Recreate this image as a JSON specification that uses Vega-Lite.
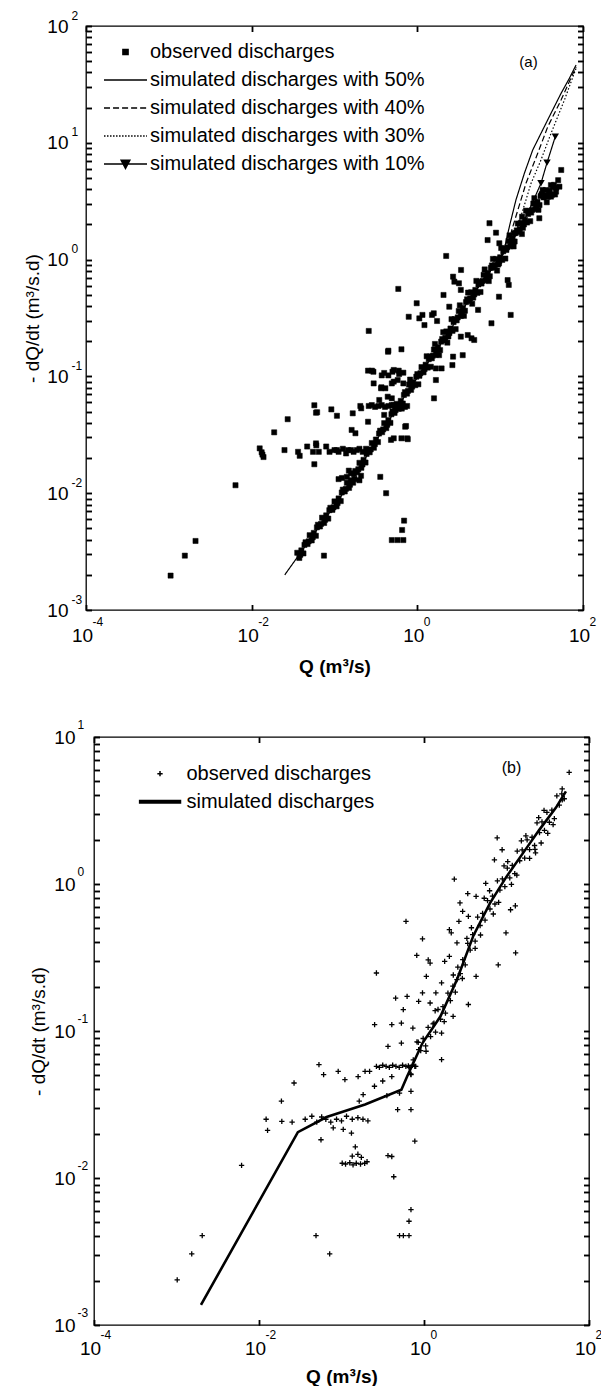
{
"$schema": "https://vega.github.io/schema/vega-lite/v6.json",
"background": "white",
"padding": {"left": 22, "top": 8, "right": 5, "bottom": 5},
"config": {
  "view": {"stroke": "black", "strokeWidth": 1.3},
  "font": "Liberation Sans",
  "axis": {"grid": false, "ticks": true, "zindex": 1, "labelColor": "black", "titleColor": "black", "tickColor": "black", "tickOpacity": 1, "domainColor": "black", "tickWidth": 1.5, "labelFont": "Liberation Sans", "titleFont": "Liberation Sans"}
},
"resolve": {"scale": {"shape": "independent"}, "legend": {"shape": "independent"}},
"datasets": {
"obsA": [
{"Q":0.0355,"dQdt":0.00309},{"Q":0.0376,"dQdt":0.00279},{"Q":0.0398,"dQdt":0.00324},{"Q":0.0422,"dQdt":0.00305},{"Q":0.0447,"dQdt":0.0038},{"Q":0.0473,"dQdt":0.00367},{"Q":0.0501,"dQdt":0.00437},{"Q":0.0531,"dQdt":0.00394},{"Q":0.0562,"dQdt":0.00457},{"Q":0.0596,"dQdt":0.00432},{"Q":0.0631,"dQdt":0.00537},{"Q":0.0668,"dQdt":0.00519},{"Q":0.0708,"dQdt":0.00617},{"Q":0.075,"dQdt":0.00556},{"Q":0.0794,"dQdt":0.00646},{"Q":0.0841,"dQdt":0.00606},{"Q":0.0891,"dQdt":0.0075},{"Q":0.0944,"dQdt":0.0072},{"Q":0.1,"dQdt":0.00851},{"Q":0.106,"dQdt":0.00772},{"Q":0.112,"dQdt":0.00902},{"Q":0.119,"dQdt":0.00856},{"Q":0.126,"dQdt":0.01072},{"Q":0.133,"dQdt":0.01035},{"Q":0.141,"dQdt":0.0123},{"Q":0.15,"dQdt":0.0111},{"Q":0.158,"dQdt":0.0129},{"Q":0.168,"dQdt":0.0123},{"Q":0.178,"dQdt":0.0155},{"Q":0.188,"dQdt":0.0151},{"Q":0.2,"dQdt":0.0182},{"Q":0.211,"dQdt":0.0165},{"Q":0.224,"dQdt":0.0193},{"Q":0.237,"dQdt":0.0183},{"Q":0.251,"dQdt":0.0229},{"Q":0.266,"dQdt":0.0224},{"Q":0.282,"dQdt":0.0269},{"Q":0.299,"dQdt":0.0245},{"Q":0.316,"dQdt":0.0288},{"Q":0.335,"dQdt":0.0274},{"Q":0.355,"dQdt":0.0343},{"Q":0.376,"dQdt":0.0333},{"Q":0.398,"dQdt":0.0398},{"Q":0.422,"dQdt":0.0361},{"Q":0.447,"dQdt":0.0422},{"Q":0.473,"dQdt":0.04},{"Q":0.501,"dQdt":0.0501},{"Q":0.531,"dQdt":0.0487},{"Q":0.562,"dQdt":0.0582},{"Q":0.596,"dQdt":0.0528},{"Q":0.631,"dQdt":0.0617},{"Q":0.668,"dQdt":0.0586},{"Q":0.708,"dQdt":0.0733},{"Q":0.75,"dQdt":0.0712},{"Q":0.794,"dQdt":0.0851},{"Q":0.841,"dQdt":0.0767},{"Q":0.891,"dQdt":0.0891},{"Q":0.944,"dQdt":0.0841},{"Q":1.0,"dQdt":0.1047},{"Q":1.059,"dQdt":0.1012},{"Q":1.122,"dQdt":0.1202},{"Q":1.189,"dQdt":0.1084},{"Q":1.259,"dQdt":0.1259},{"Q":1.334,"dQdt":0.1189},{"Q":1.413,"dQdt":0.1479},{"Q":1.496,"dQdt":0.1429},{"Q":1.585,"dQdt":0.1698},{"Q":1.679,"dQdt":0.1531},{"Q":1.778,"dQdt":0.1778},{"Q":1.884,"dQdt":0.1679},{"Q":1.995,"dQdt":0.2089},{"Q":2.113,"dQdt":0.203},{"Q":2.239,"dQdt":0.2427},{"Q":2.371,"dQdt":0.22},{"Q":2.512,"dQdt":0.257},{"Q":2.661,"dQdt":0.2455},{"Q":2.818,"dQdt":0.309},{"Q":2.985,"dQdt":0.302},{"Q":3.162,"dQdt":0.363},{"Q":3.35,"dQdt":0.329},{"Q":3.548,"dQdt":0.385},{"Q":3.758,"dQdt":0.365},{"Q":3.981,"dQdt":0.457},{"Q":4.217,"dQdt":0.442},{"Q":4.467,"dQdt":0.525},{"Q":4.732,"dQdt":0.473},{"Q":5.012,"dQdt":0.55},{"Q":5.309,"dQdt":0.519},{"Q":5.623,"dQdt":0.646},{"Q":5.957,"dQdt":0.624},{"Q":6.31,"dQdt":0.741},{"Q":6.683,"dQdt":0.665},{"Q":7.079,"dQdt":0.767},{"Q":7.499,"dQdt":0.72},{"Q":7.943,"dQdt":0.891},{"Q":8.414,"dQdt":0.856},{"Q":8.913,"dQdt":1.012},{"Q":9.441,"dQdt":0.907},{"Q":10,"dQdt":1.047},{"Q":10.59,"dQdt":0.994},{"Q":11.22,"dQdt":1.245},{"Q":11.89,"dQdt":1.209},{"Q":12.59,"dQdt":1.445},{"Q":13.34,"dQdt":1.303},{"Q":14.13,"dQdt":1.514},{"Q":14.96,"dQdt":1.429},{"Q":15.85,"dQdt":1.778},{"Q":16.79,"dQdt":1.728},{"Q":17.78,"dQdt":2.065},{"Q":18.84,"dQdt":1.873},{"Q":19.95,"dQdt":2.188},{"Q":21.13,"dQdt":2.078},{"Q":22.39,"dQdt":2.6},{"Q":23.71,"dQdt":2.527},{"Q":25.12,"dQdt":3.02},{"Q":26.61,"dQdt":2.707},{"Q":28.18,"dQdt":3.126},{"Q":29.85,"dQdt":2.934},{"Q":31.62,"dQdt":3.631},{"Q":33.5,"dQdt":3.408},{"Q":35.48,"dQdt":3.936},{"Q":37.58,"dQdt":3.447},{"Q":39.81,"dQdt":3.89},{"Q":42.17,"dQdt":3.589},{"Q":44.67,"dQdt":4.365},{"Q":47.32,"dQdt":4.121},{"Q":50.12,"dQdt":4.786},
{"Q":0.0387,"dQdt":0.002968},{"Q":0.0434,"dQdt":0.00361},{"Q":0.0487,"dQdt":0.00387},{"Q":0.0546,"dQdt":0.00419},{"Q":0.0613,"dQdt":0.0051},{"Q":0.0688,"dQdt":0.00546},{"Q":0.0772,"dQdt":0.00592},{"Q":0.0866,"dQdt":0.00715},{"Q":0.0972,"dQdt":0.00757},{"Q":0.109,"dQdt":0.00824},{"Q":0.1224,"dQdt":0.01014},{"Q":0.1373,"dQdt":0.0109},{"Q":0.154,"dQdt":0.01182},{"Q":0.1728,"dQdt":0.01462},{"Q":0.1939,"dQdt":0.01603},{"Q":0.2176,"dQdt":0.01762},{"Q":0.2441,"dQdt":0.02168},{"Q":0.2739,"dQdt":0.02371},{"Q":0.3073,"dQdt":0.0263},{"Q":0.3448,"dQdt":0.03243},{"Q":0.3868,"dQdt":0.03516},{"Q":0.434,"dQdt":0.03855},{"Q":0.487,"dQdt":0.04742},{"Q":0.5464,"dQdt":0.0514},{"Q":0.613,"dQdt":0.05636},{"Q":0.6879,"dQdt":0.06934},{"Q":0.772,"dQdt":0.07516},{"Q":0.866,"dQdt":0.08175},{"Q":0.9716,"dQdt":0.0994},{"Q":1.09,"dQdt":0.1065},{"Q":1.223,"dQdt":0.1155},{"Q":1.373,"dQdt":0.1404},{"Q":1.54,"dQdt":0.1505},{"Q":1.728,"dQdt":0.1631},{"Q":1.939,"dQdt":0.1984},{"Q":2.176,"dQdt":0.2143},{"Q":2.441,"dQdt":0.235},{"Q":2.739,"dQdt":0.2917},{"Q":3.073,"dQdt":0.32},{"Q":3.448,"dQdt":0.3516},{"Q":3.868,"dQdt":0.4325},{"Q":4.34,"dQdt":0.465},{"Q":4.87,"dQdt":0.504},{"Q":5.464,"dQdt":0.613},{"Q":6.13,"dQdt":0.657},{"Q":6.879,"dQdt":0.7063},{"Q":7.72,"dQdt":0.849},{"Q":8.66,"dQdt":0.8995},{"Q":9.716,"dQdt":0.964},{"Q":10.9,"dQdt":1.178},{"Q":12.23,"dQdt":1.276},{"Q":13.73,"dQdt":1.388},{"Q":15.4,"dQdt":1.689},{"Q":17.28,"dQdt":1.824},{"Q":19.39,"dQdt":2.0},{"Q":21.76,"dQdt":2.46},{"Q":24.41,"dQdt":2.667},{"Q":27.39,"dQdt":2.877},{"Q":30.73,"dQdt":3.499},{"Q":34.48,"dQdt":3.54},{"Q":38.68,"dQdt":3.622},{"Q":43.4,"dQdt":4.193},
{"Q":1.632,"dQdt":0.1895},{"Q":1.83,"dQdt":0.152},{"Q":2.053,"dQdt":0.239},{"Q":2.304,"dQdt":0.1945},{"Q":2.586,"dQdt":0.309},{"Q":2.901,"dQdt":0.254},{"Q":3.256,"dQdt":0.406},{"Q":3.652,"dQdt":0.33},{"Q":4.099,"dQdt":0.522},{"Q":4.597,"dQdt":0.419},{"Q":5.158,"dQdt":0.657},{"Q":5.788,"dQdt":0.528},{"Q":6.494,"dQdt":0.824},{"Q":7.288,"dQdt":0.655},{"Q":8.175,"dQdt":1.014},{"Q":9.173,"dQdt":0.805},{"Q":10.29,"dQdt":1.256},{"Q":11.55,"dQdt":1.021},{"Q":12.96,"dQdt":1.613},{"Q":14.54,"dQdt":1.296},{"Q":16.31,"dQdt":2.037},{"Q":18.3,"dQdt":1.656},{"Q":20.54,"dQdt":2.624},{"Q":23.05,"dQdt":2.133},{"Q":25.85,"dQdt":3.357},{"Q":29.01,"dQdt":2.667},{"Q":32.56,"dQdt":3.945},{"Q":36.52,"dQdt":3.097},{"Q":40.98,"dQdt":4.34},{"Q":45.97,"dQdt":3.61},{"Q":0.516,"dQdt":0.0568},{"Q":0.649,"dQdt":0.053},{"Q":0.818,"dQdt":0.0939},{"Q":1.029,"dQdt":0.0856},{"Q":1.296,"dQdt":0.1487},{"Q":1.454,"dQdt":0.1209},
{"Q":0.00105,"dQdt":0.00197},{"Q":0.00156,"dQdt":0.00292},{"Q":0.0021,"dQdt":0.0039},{"Q":0.00638,"dQdt":0.0117},{"Q":0.0746,"dQdt":0.00292},{"Q":0.492,"dQdt":0.00397},{"Q":0.578,"dQdt":0.00397},{"Q":0.678,"dQdt":0.00397},{"Q":0.655,"dQdt":0.00484},{"Q":0.692,"dQdt":0.00582},{"Q":0.357,"dQdt":0.0138},{"Q":0.42,"dQdt":0.01},{"Q":0.112,"dQdt":0.0132},{"Q":0.123,"dQdt":0.0135},{"Q":0.141,"dQdt":0.0138},{"Q":0.158,"dQdt":0.0148},{"Q":0.174,"dQdt":0.0132},{"Q":0.2,"dQdt":0.0129},{"Q":0.209,"dQdt":0.0141},{"Q":0.149,"dQdt":0.0156},{"Q":0.0571,"dQdt":0.0177},
{"Q":0.0125,"dQdt":0.0242},{"Q":0.0132,"dQdt":0.0224},{"Q":0.0139,"dQdt":0.0204},{"Q":0.0135,"dQdt":0.0214},{"Q":0.0249,"dQdt":0.0234},{"Q":0.0363,"dQdt":0.0226},{"Q":0.038,"dQdt":0.0209},{"Q":0.0468,"dQdt":0.0251},{"Q":0.055,"dQdt":0.0226},{"Q":0.0603,"dQdt":0.0257},{"Q":0.0646,"dQdt":0.0226},{"Q":0.0794,"dQdt":0.0251},{"Q":0.0871,"dQdt":0.0226},{"Q":0.107,"dQdt":0.0234},{"Q":0.126,"dQdt":0.024},{"Q":0.138,"dQdt":0.0219},{"Q":0.158,"dQdt":0.0234},{"Q":0.186,"dQdt":0.0234},{"Q":0.219,"dQdt":0.0226},{"Q":0.24,"dQdt":0.024},{"Q":0.257,"dQdt":0.0234},{"Q":0.1,"dQdt":0.0234},{"Q":0.112,"dQdt":0.0226},{"Q":0.145,"dQdt":0.0234},{"Q":0.17,"dQdt":0.0226},{"Q":0.2,"dQdt":0.024},
{"Q":0.0187,"dQdt":0.0332},{"Q":0.0272,"dQdt":0.043},{"Q":0.0571,"dQdt":0.0566},{"Q":0.0617,"dQdt":0.0493},{"Q":0.0916,"dQdt":0.0522},{"Q":0.107,"dQdt":0.046},{"Q":0.166,"dQdt":0.0483},{"Q":0.21,"dQdt":0.0533},{"Q":0.161,"dQdt":0.0348},{"Q":0.179,"dQdt":0.0326},{"Q":0.254,"dQdt":0.0409},{"Q":0.714,"dQdt":0.0371},{"Q":0.753,"dQdt":0.0295},{"Q":0.643,"dQdt":0.0295},{"Q":0.519,"dQdt":0.0295},
{"Q":0.205,"dQdt":0.0558},{"Q":0.259,"dQdt":0.0558},{"Q":0.282,"dQdt":0.0568},{"Q":0.309,"dQdt":0.0548},{"Q":0.339,"dQdt":0.0558},{"Q":0.372,"dQdt":0.0568},{"Q":0.407,"dQdt":0.0548},{"Q":0.447,"dQdt":0.0558},{"Q":0.49,"dQdt":0.0568},{"Q":0.537,"dQdt":0.0548},{"Q":0.589,"dQdt":0.0558},{"Q":0.646,"dQdt":0.0568},{"Q":0.708,"dQdt":0.0548},{"Q":0.753,"dQdt":0.0558},
{"Q":0.347,"dQdt":0.0628},{"Q":0.369,"dQdt":0.0807},{"Q":0.411,"dQdt":0.0791},{"Q":0.492,"dQdt":0.0649},{"Q":0.519,"dQdt":0.0902},{"Q":0.678,"dQdt":0.0871},{"Q":0.492,"dQdt":0.0871},{"Q":0.519,"dQdt":0.1135},{"Q":0.596,"dQdt":0.112},{"Q":0.678,"dQdt":0.1076},{"Q":0.254,"dQdt":0.112},{"Q":0.283,"dQdt":0.112},{"Q":0.443,"dQdt":0.1626},{"Q":0.643,"dQdt":0.1706},{"Q":0.259,"dQdt":0.245},{"Q":1.589,"dQdt":0.0649},{"Q":1.675,"dQdt":0.0931},{"Q":1.675,"dQdt":0.117},{"Q":1.963,"dQdt":0.117},{"Q":2.65,"dQdt":0.125},{"Q":2.7,"dQdt":0.1476},{"Q":3.53,"dQdt":0.152},{"Q":3.35,"dQdt":0.219},{"Q":4.06,"dQdt":0.226},{"Q":4.51,"dQdt":0.212},{"Q":4.86,"dQdt":0.205},{"Q":1.153,"dQdt":0.336},{"Q":1.503,"dQdt":0.336},{"Q":1.219,"dQdt":0.275},{"Q":0.982,"dQdt":0.423},{"Q":7.85,"dQdt":0.285},{"Q":13.4,"dQdt":0.336},{"Q":5.41,"dQdt":0.371},{"Q":2.43,"dQdt":0.395},{"Q":0.589,"dQdt":0.561},{"Q":1.578,"dQdt":0.347},{"Q":1.73,"dQdt":0.298},{"Q":0.787,"dQdt":0.324},{"Q":1.057,"dQdt":0.314},{"Q":0.447,"dQdt":0.166},{"Q":0.295,"dQdt":0.1096},{"Q":0.372,"dQdt":0.102},{"Q":0.398,"dQdt":0.107},{"Q":0.447,"dQdt":0.102},{"Q":0.501,"dQdt":0.1096},{"Q":0.603,"dQdt":0.1047},{"Q":0.297,"dQdt":0.0871},{"Q":0.365,"dQdt":0.0791},{"Q":0.579,"dQdt":0.0931},{"Q":0.439,"dQdt":0.067},{"Q":0.0598,"dQdt":0.0489},{"Q":0.398,"dQdt":0.0468},{"Q":0.73,"dQdt":0.0376},{"Q":0.481,"dQdt":0.0286},{"Q":0.766,"dQdt":0.029},{"Q":0.0598,"dQdt":0.0267},
{"Q":7.43,"dQdt":2.05},{"Q":7.05,"dQdt":1.47},{"Q":2.23,"dQdt":1.074},{"Q":2.07,"dQdt":0.498},{"Q":2.7,"dQdt":0.714},{"Q":3.18,"dQdt":0.627},{"Q":3.35,"dQdt":0.55},{"Q":9.68,"dQdt":0.481},{"Q":12.7,"dQdt":0.607},{"Q":54.6,"dQdt":5.85},{"Q":18.4,"dQdt":2.33},{"Q":14.9,"dQdt":1.68},{"Q":9.68,"dQdt":0.929},{"Q":8.91,"dQdt":1.7},{"Q":9.77,"dQdt":1.38},{"Q":51.9,"dQdt":4.21},{"Q":47.3,"dQdt":3.82},{"Q":41.1,"dQdt":3.46},{"Q":29.7,"dQdt":2.26},{"Q":12.3,"dQdt":0.668},{"Q":3.37,"dQdt":0.815},{"Q":2.8,"dQdt":0.647}
],
"simA": [
{"series":"50%","Q":0.0251,"dQdt":0.002},{"series":"50%","Q":0.0398,"dQdt":0.00316},{"series":"50%","Q":0.0631,"dQdt":0.00501},{"series":"50%","Q":0.1,"dQdt":0.00776},{"series":"50%","Q":0.158,"dQdt":0.0126},{"series":"50%","Q":0.251,"dQdt":0.0214},{"series":"50%","Q":0.398,"dQdt":0.0363},{"series":"50%","Q":0.631,"dQdt":0.0603},{"series":"50%","Q":1,"dQdt":0.0977},{"series":"50%","Q":1.585,"dQdt":0.155},{"series":"50%","Q":2.512,"dQdt":0.251},{"series":"50%","Q":3.98,"dQdt":0.427},{"series":"50%","Q":6.31,"dQdt":0.676},{"series":"50%","Q":10,"dQdt":1.023},{"series":"50%","Q":11.48,"dQdt":1.318},{"series":"50%","Q":12.9,"dQdt":1.91},{"series":"50%","Q":15.5,"dQdt":3.24},{"series":"50%","Q":19.6,"dQdt":5.48},{"series":"50%","Q":24.7,"dQdt":8.67},{"series":"50%","Q":31.1,"dQdt":12.05},{"series":"50%","Q":41.1,"dQdt":17.9},{"series":"50%","Q":54.3,"dQdt":26.5},{"series":"50%","Q":68.4,"dQdt":35.6},{"series":"50%","Q":82.4,"dQdt":46.3},
{"series":"40%","Q":3.98,"dQdt":0.427},{"series":"40%","Q":6.31,"dQdt":0.676},{"series":"40%","Q":10,"dQdt":1.023},{"series":"40%","Q":12.59,"dQdt":1.413},{"series":"40%","Q":14.2,"dQdt":1.91},{"series":"40%","Q":20.5,"dQdt":4.5},{"series":"40%","Q":28.4,"dQdt":8.13},{"series":"40%","Q":37.5,"dQdt":13.7},{"series":"40%","Q":54.3,"dQdt":23.2},{"series":"40%","Q":82.4,"dQdt":44.7},
{"series":"30%","Q":3.98,"dQdt":0.427},{"series":"30%","Q":6.31,"dQdt":0.676},{"series":"30%","Q":10,"dQdt":1.023},{"series":"30%","Q":14.13,"dQdt":1.479},{"series":"30%","Q":16.3,"dQdt":1.91},{"series":"30%","Q":23.6,"dQdt":4.5},{"series":"30%","Q":31.1,"dQdt":7.13},{"series":"30%","Q":41.1,"dQdt":12.05},{"series":"30%","Q":59.6,"dQdt":23.2},{"series":"30%","Q":82.4,"dQdt":43.4},
{"series":"10%","Q":3.98,"dQdt":0.427},{"series":"10%","Q":6.31,"dQdt":0.676},{"series":"10%","Q":10,"dQdt":1.023},{"series":"10%","Q":15.85,"dQdt":1.66},{"series":"10%","Q":21.5,"dQdt":2.49},{"series":"10%","Q":31.1,"dQdt":4.5},{"series":"10%","Q":36.8,"dQdt":6.76},{"series":"10%","Q":46.3,"dQdt":11.3}
],
"labA": [{"Q":21.98,"dQdt":49.4,"label":"(a)"}],
"obsB": [
{"Q":0.646,"dQdt":0.0578},{"Q":0.692,"dQdt":0.051},{"Q":0.741,"dQdt":0.0637},{"Q":0.794,"dQdt":0.0575},{"Q":0.851,"dQdt":0.0838},{"Q":0.912,"dQdt":0.0735},{"Q":0.977,"dQdt":0.0889},{"Q":1.047,"dQdt":0.0791},{"Q":1.122,"dQdt":0.1059},{"Q":1.202,"dQdt":0.0916},{"Q":1.288,"dQdt":0.1117},{"Q":1.38,"dQdt":0.0982},{"Q":1.479,"dQdt":0.14},{"Q":1.585,"dQdt":0.1202},{"Q":1.698,"dQdt":0.1466},{"Q":1.82,"dQdt":0.1324},{"Q":1.95,"dQdt":0.181},{"Q":2.089,"dQdt":0.1607},{"Q":2.239,"dQdt":0.2018},{"Q":2.399,"dQdt":0.1837},{"Q":2.57,"dQdt":0.272},{"Q":2.754,"dQdt":0.2455},{"Q":2.951,"dQdt":0.3055},{"Q":3.162,"dQdt":0.2818},{"Q":3.388,"dQdt":0.394},{"Q":3.631,"dQdt":0.3548},{"Q":3.89,"dQdt":0.452},{"Q":4.169,"dQdt":0.409},{"Q":4.467,"dQdt":0.596},{"Q":4.786,"dQdt":0.522},{"Q":5.129,"dQdt":0.632},{"Q":5.495,"dQdt":0.5675},{"Q":5.888,"dQdt":0.771},{"Q":6.31,"dQdt":0.676},{"Q":6.761,"dQdt":0.826},{"Q":7.244,"dQdt":0.731},{"Q":7.762,"dQdt":1.05},{"Q":8.318,"dQdt":0.908},{"Q":8.913,"dQdt":1.084},{"Q":9.55,"dQdt":0.959},{"Q":10.23,"dQdt":1.282},{"Q":10.96,"dQdt":1.102},{"Q":11.75,"dQdt":1.337},{"Q":12.59,"dQdt":1.175},{"Q":13.49,"dQdt":1.675},{"Q":14.45,"dQdt":1.439},{"Q":15.49,"dQdt":1.706},{"Q":16.6,"dQdt":1.5},{"Q":17.78,"dQdt":1.995},{"Q":19.05,"dQdt":1.714},{"Q":20.42,"dQdt":2.08},{"Q":21.88,"dQdt":1.828},{"Q":23.44,"dQdt":2.606},{"Q":25.12,"dQdt":2.239},{"Q":26.92,"dQdt":2.645},{"Q":28.84,"dQdt":2.317},{"Q":30.9,"dQdt":3.073},{"Q":33.11,"dQdt":2.63},{"Q":35.48,"dQdt":3.18},{"Q":38.02,"dQdt":2.786},{"Q":40.74,"dQdt":3.972},{"Q":43.65,"dQdt":3.436},{"Q":46.77,"dQdt":4.102},{"Q":50.12,"dQdt":3.802},
{"Q":0.822,"dQdt":0.0843},{"Q":1.059,"dQdt":0.0728},{"Q":1.365,"dQdt":0.1374},{"Q":1.758,"dQdt":0.1159},{"Q":2.265,"dQdt":0.2404},{"Q":2.917,"dQdt":0.2275},{"Q":3.758,"dQdt":0.504},{"Q":4.842,"dQdt":0.45},{"Q":6.237,"dQdt":0.9},{"Q":8.035,"dQdt":0.749},{"Q":10.35,"dQdt":1.419},{"Q":13.34,"dQdt":1.148},{"Q":17.18,"dQdt":2.128},{"Q":22.13,"dQdt":1.722},{"Q":28.51,"dQdt":3.17},{"Q":36.73,"dQdt":2.535},{"Q":47.32,"dQdt":4.441},{"Q":3.311,"dQdt":0.427},{"Q":5.37,"dQdt":0.8},{"Q":9.333,"dQdt":1.327},{"Q":15.14,"dQdt":1.968},{"Q":24.55,"dQdt":2.831},{"Q":4.169,"dQdt":0.365},{"Q":6.918,"dQdt":0.625},{"Q":11.48,"dQdt":0.995},{"Q":19.05,"dQdt":1.493},{"Q":31.62,"dQdt":2.213},
{"Q":57.5,"dQdt":5.75},{"Q":7.71,"dQdt":2.06},{"Q":7.14,"dQdt":1.46},{"Q":8.85,"dQdt":1.71},{"Q":2.33,"dQdt":1.08},{"Q":3.39,"dQdt":0.859},{"Q":12.9,"dQdt":0.34},{"Q":12.8,"dQdt":0.711},{"Q":7.94,"dQdt":0.282},{"Q":9.86,"dQdt":0.465},{"Q":0.605,"dQdt":0.557},{"Q":0.959,"dQdt":0.423},{"Q":0.817,"dQdt":0.327},{"Q":1.125,"dQdt":0.305},{"Q":1.78,"dQdt":0.298},{"Q":2.03,"dQdt":0.489},{"Q":2.73,"dQdt":0.743},{"Q":2.94,"dQdt":0.652},{"Q":2.51,"dQdt":0.398},{"Q":3.45,"dQdt":0.603},{"Q":0.265,"dQdt":0.248},{"Q":0.453,"dQdt":0.1675},{"Q":0.624,"dQdt":0.172},{"Q":0.959,"dQdt":0.1816},{"Q":1.186,"dQdt":0.155},{"Q":1.393,"dQdt":0.1816},{"Q":1.633,"dQdt":0.2123},{"Q":2.51,"dQdt":0.2234},{"Q":3.45,"dQdt":0.1514},{"Q":4.28,"dQdt":0.2355},{"Q":0.252,"dQdt":0.1104},{"Q":0.407,"dQdt":0.1104},{"Q":0.532,"dQdt":0.1132},{"Q":0.733,"dQdt":0.1047},{"Q":1.321,"dQdt":0.1132},{"Q":1.633,"dQdt":0.0968},{"Q":2.254,"dQdt":0.1259},{"Q":2.14,"dQdt":0.465},{"Q":2.65,"dQdt":0.557},{"Q":1.067,"dQdt":0.2355},{"Q":0.861,"dQdt":0.159},{"Q":0.561,"dQdt":0.1396},{"Q":1.186,"dQdt":0.29},{"Q":2.03,"dQdt":0.322},{"Q":4.28,"dQdt":0.824},{"Q":5.6,"dQdt":1.01},{"Q":11.2,"dQdt":0.668},{"Q":22.5,"dQdt":1.63},{"Q":26.3,"dQdt":1.9},{"Q":47.4,"dQdt":3.74},
{"Q":0.366,"dQdt":0.0787},{"Q":0.532,"dQdt":0.0828},{"Q":0.861,"dQdt":0.0746},{"Q":1.633,"dQdt":0.0638},
{"Q":0.265,"dQdt":0.0575},{"Q":0.288,"dQdt":0.0565},{"Q":0.316,"dQdt":0.0585},{"Q":0.347,"dQdt":0.0575},{"Q":0.38,"dQdt":0.0565},{"Q":0.417,"dQdt":0.0585},{"Q":0.457,"dQdt":0.0575},{"Q":0.501,"dQdt":0.0565},{"Q":0.55,"dQdt":0.0585},{"Q":0.603,"dQdt":0.0575},{"Q":0.661,"dQdt":0.0565},{"Q":0.724,"dQdt":0.0585},{"Q":0.774,"dQdt":0.0575},
{"Q":0.407,"dQdt":0.049},{"Q":0.695,"dQdt":0.0505},{"Q":0.695,"dQdt":0.0389},{"Q":0.0533,"dQdt":0.059},{"Q":0.0607,"dQdt":0.0505},{"Q":0.0912,"dQdt":0.0531},{"Q":0.11,"dQdt":0.0467},{"Q":0.159,"dQdt":0.049},{"Q":0.219,"dQdt":0.0531},{"Q":0.251,"dQdt":0.0421},{"Q":0.183,"dQdt":0.0369},{"Q":0.164,"dQdt":0.0333},{"Q":0.0266,"dQdt":0.0443},{"Q":0.0187,"dQdt":0.0333},{"Q":0.505,"dQdt":0.0378},{"Q":0.479,"dQdt":0.0292},{"Q":0.695,"dQdt":0.0292},{"Q":0.407,"dQdt":0.014},{"Q":0.43,"dQdt":0.0102},{"Q":0.695,"dQdt":0.0061},{"Q":0.658,"dQdt":0.00508},{"Q":0.505,"dQdt":0.00405},{"Q":0.562,"dQdt":0.00405},{"Q":0.658,"dQdt":0.00405},{"Q":0.0491,"dQdt":0.00405},{"Q":0.0719,"dQdt":0.00305},{"Q":0.00205,"dQdt":0.00405},{"Q":0.00153,"dQdt":0.00305},{"Q":0.00102,"dQdt":0.00203},{"Q":0.00615,"dQdt":0.0122},{"Q":0.0189,"dQdt":0.0243},{"Q":0.0122,"dQdt":0.0251},{"Q":0.0127,"dQdt":0.0211},{"Q":0.0252,"dQdt":0.024},{"Q":0.0363,"dQdt":0.0251},{"Q":0.0437,"dQdt":0.0263},{"Q":0.0501,"dQdt":0.024},{"Q":0.0575,"dQdt":0.026},{"Q":0.0646,"dQdt":0.0251},{"Q":0.0741,"dQdt":0.024},{"Q":0.0871,"dQdt":0.0251},{"Q":0.1,"dQdt":0.0245},{"Q":0.115,"dQdt":0.0263},{"Q":0.135,"dQdt":0.0251},{"Q":0.158,"dQdt":0.0257},{"Q":0.182,"dQdt":0.0251},{"Q":0.209,"dQdt":0.0245},{"Q":0.0794,"dQdt":0.0219},{"Q":0.105,"dQdt":0.0214},{"Q":0.0564,"dQdt":0.0182},{"Q":0.132,"dQdt":0.0202},{"Q":0.102,"dQdt":0.0126},{"Q":0.112,"dQdt":0.01245},{"Q":0.126,"dQdt":0.0127},{"Q":0.138,"dQdt":0.0123},{"Q":0.151,"dQdt":0.0126},{"Q":0.17,"dQdt":0.01245},{"Q":0.191,"dQdt":0.0126},{"Q":0.204,"dQdt":0.0129},{"Q":0.135,"dQdt":0.0141},{"Q":0.158,"dQdt":0.0145},{"Q":0.174,"dQdt":0.0138},{"Q":0.147,"dQdt":0.0163},{"Q":0.366,"dQdt":0.0142},{"Q":0.193,"dQdt":0.0531},{"Q":0.316,"dQdt":0.0457},{"Q":0.355,"dQdt":0.0363},{"Q":0.774,"dQdt":0.0178}
],
"simB": [
{"Q":0.00198,"dQdt":0.00137},{"Q":0.0296,"dQdt":0.0205},{"Q":0.066,"dQdt":0.026},{"Q":0.193,"dQdt":0.0316},{"Q":0.532,"dQdt":0.0398},{"Q":0.624,"dQdt":0.049},{"Q":0.774,"dQdt":0.0638},{"Q":0.959,"dQdt":0.0828},{"Q":1.585,"dQdt":0.126},{"Q":2.512,"dQdt":0.224},{"Q":3.98,"dQdt":0.447},{"Q":6.31,"dQdt":0.741},{"Q":10,"dQdt":1.122},{"Q":15.85,"dQdt":1.622},{"Q":25.1,"dQdt":2.344},{"Q":39.8,"dQdt":3.31},{"Q":52.5,"dQdt":4.27}
],
"labB": [{"Q":11.5,"dQdt":6.11,"label":"(b)"}]
},
"spacing": 40,
"vconcat": [
{
  "width": 497, "height": 584,
  "resolve": {"axis": {"x": "independent", "y": "independent"}},
  "layer": [
    {
      "data": {"name": "obsA"},
      "mark": {"type": "point", "filled": true, "fill": "black", "stroke": "black", "strokeWidth": 0.5, "opacity": 1, "size": 1849, "clip": true},
      "encoding": {
        "x": {"field": "Q", "type": "quantitative", "scale": {"type": "log", "domain": [0.0001, 100], "nice": false},
          "axis": {"orient": "bottom", "zindex": 1, "offset": -5.5, "values": [0.0001, 0.01, 1, 100], "labelExpr": "'10'", "ticks": true, "tickSize": 5.5, "tickColor": "black", "tickWidth": 1.5, "labelPadding": 16.6, "labelOffset": -4, "labelFontSize": 19, "labelBaseline": "top", "labelFlush": false, "labelOverlap": false, "domain": false, "title": "Q (m³/s)", "titleFontSize": 19, "titleFontWeight": "bold", "titlePadding": 11.4}},
        "y": {"field": "dQdt", "type": "quantitative", "scale": {"type": "log", "domain": [0.001, 100], "nice": false},
          "axis": {"orient": "left", "zindex": 1, "offset": -5.5, "values": [0.001,0.002,0.003,0.004,0.005,0.006,0.007,0.008,0.009,0.01,0.02,0.03,0.04,0.05,0.06,0.07,0.08,0.09,0.1,0.2,0.3,0.4,0.5,0.6,0.7,0.8,0.9,1,2,3,4,5,6,7,8,9,10,20,30,40,50,60,70,80,90,100], "labelExpr": "abs(log(datum.value)/LN10 - round(log(datum.value)/LN10)) < 0.01 ? '10' : ''", "ticks": true, "tickSize": 5.5, "tickColor": "black", "tickWidth": 1.5, "labelPadding": 18, "labelFontSize": 19, "labelFlush": false, "labelOverlap": false, "domain": false, "title": "- dQ/dt (m³/s.d)", "titleFontSize": 19, "titleFontWeight": "normal", "titlePadding": 4.5}},
        "shape": {"datum": "observed discharges", "type": "nominal",
          "scale": {"domain": ["observed discharges", "simulated discharges with 50%", "simulated discharges with 40%", "simulated discharges with 30%", "simulated discharges with 10%"],
            "range": ["M-0.12,-0.12H0.12V0.12H-0.12Z", "M-1,0H1", "M-1,0H-0.72M-0.58,0H-0.3M-0.16,0H0.12M0.26,0H0.54M0.68,0H0.96", "M-1,0H-0.93M-0.86,0H-0.79M-0.72,0H-0.65M-0.58,0H-0.51M-0.44,0H-0.37M-0.3,0H-0.23M-0.16,0H-0.09M-0.02,0H0.05M0.12,0H0.19M0.26,0H0.33M0.4,0H0.47M0.54,0H0.61M0.68,0H0.75M0.82,0H0.89M0.96,0H1", "M-1,0H1M-0.2,-0.17H0.2L0,0.2Z"]},
          "legend": {"orient": "none", "legendX": 17, "legendY": 12, "title": null, "padding": 0, "rowPadding": 0, "clipHeight": 28, "symbolOffset": 0, "symbolSize": 1849, "labelOffset": 2, "labelFontSize": 20, "labelFont": "Liberation Sans", "labelColor": "black", "labelLimit": 0,
            "encode": {"symbols": {"update": {"fill": {"value": "black"}, "stroke": {"value": "black"}, "strokeWidth": {"value": 1.2}, "opacity": {"value": 1}}}}}}
      }
    },
    {
      "data": {"name": "simA"},
      "mark": {"type": "line", "color": "black", "strokeWidth": 1.2, "clip": true},
      "encoding": {
        "x": {"field": "Q", "type": "quantitative", "scale": {"type": "log", "domain": [0.0001, 100], "nice": false},
          "axis": {"orient": "top", "zindex": 1, "offset": -5.5, "values": [0.0001, 0.01, 1, 100], "labels": false, "ticks": true, "tickSize": 5.5, "tickColor": "black", "tickWidth": 1.5, "title": null, "domain": false}},
        "y": {"field": "dQdt", "type": "quantitative", "scale": {"type": "log", "domain": [0.001, 100], "nice": false},
          "axis": {"orient": "right", "zindex": 1, "offset": -5.5, "values": [0.001,0.002,0.003,0.004,0.005,0.006,0.007,0.008,0.009,0.01,0.02,0.03,0.04,0.05,0.06,0.07,0.08,0.09,0.1,0.2,0.3,0.4,0.5,0.6,0.7,0.8,0.9,1,2,3,4,5,6,7,8,9,10,20,30,40,50,60,70,80,90,100], "labels": false, "ticks": true, "tickSize": 5.5, "tickColor": "black", "tickWidth": 1.5, "title": null, "domain": false}},
        "strokeDash": {"field": "series", "type": "nominal", "scale": {"domain": ["50%", "40%", "30%", "10%"], "range": [[1, 0], [6, 3], [1.5, 2], [1, 0]]}, "legend": null}
      }
    },
    {
      "data": {"name": "simA"},
      "transform": [{"filter": "datum.series == '10%' && datum.Q > 25"}],
      "mark": {"type": "point", "shape": "triangle-down", "filled": true, "color": "black", "size": 55, "opacity": 1},
      "encoding": {
        "x": {"field": "Q", "type": "quantitative", "scale": {"type": "log", "domain": [0.0001, 100], "nice": false},
          "axis": {"orient": "bottom", "values": [0.0001, 0.01, 1, 100], "labelExpr": "'' + round(log(datum.value)/LN10)", "ticks": false, "domain": false, "grid": true, "gridColor": "black", "gridOpacity": 1, "gridWidth": 1.4, "gridDash": [5.5, 573, 5.5, 3000], "labelFontSize": 12, "labelAlign": "left", "labelOffset": 6, "labelBaseline": "top", "labelPadding": 6.6, "labelFlush": false, "labelOverlap": false, "title": null}},
        "y": {"field": "dQdt", "type": "quantitative", "scale": {"type": "log", "domain": [0.001, 100], "nice": false},
          "axis": {"orient": "left", "values": [0.001,0.002,0.003,0.004,0.005,0.006,0.007,0.008,0.009,0.01,0.02,0.03,0.04,0.05,0.06,0.07,0.08,0.09,0.1,0.2,0.3,0.4,0.5,0.6,0.7,0.8,0.9,1,2,3,4,5,6,7,8,9,10,20,30,40,50,60,70,80,90,100], "labelExpr": "abs(log(datum.value)/LN10 - round(log(datum.value)/LN10)) < 0.01 ? '' + round(log(datum.value)/LN10) : ''", "ticks": false, "domain": false, "grid": true, "gridColor": "black", "gridOpacity": 1, "gridWidth": 1.4, "gridDash": [5.5, 486, 5.5, 3000], "labelFontSize": 12, "labelAlign": "left", "labelBaseline": "middle", "labelPadding": 15, "labelOffset": -11, "labelFlush": false, "labelOverlap": false, "title": null}}
      }
    },
    {
      "data": {"name": "labA"},
      "mark": {"type": "text", "fontSize": 15, "font": "Liberation Sans", "color": "black", "align": "center", "baseline": "middle"},
      "encoding": {
        "x": {"field": "Q", "type": "quantitative", "scale": {"type": "log", "domain": [0.0001, 100], "nice": false}, "axis": null},
        "y": {"field": "dQdt", "type": "quantitative", "scale": {"type": "log", "domain": [0.001, 100], "nice": false}, "axis": null},
        "text": {"field": "label"}
      }
    }
  ]
},
{
  "spacing": 0,
  "bounds": "flush",
  "hconcat": [
    {"width": 8, "height": 588, "view": {"stroke": null}, "data": {"values": []}, "mark": "point"},
    {
      "width": 495, "height": 588,
      "resolve": {"axis": {"x": "independent", "y": "independent"}},
      "layer": [
        {
          "data": {"name": "obsB"},
          "mark": {"type": "point", "filled": true, "fill": "black", "stroke": "black", "strokeWidth": 1.3, "opacity": 1, "size": 1681, "clip": true},
          "encoding": {
            "x": {"field": "Q", "type": "quantitative", "scale": {"type": "log", "domain": [0.0001, 100], "nice": false},
              "axis": {"orient": "bottom", "zindex": 1, "offset": -5.5, "values": [0.0001, 0.01, 1, 100], "labelExpr": "'10'", "ticks": true, "tickSize": 5.5, "tickColor": "black", "tickWidth": 1.5, "labelPadding": 14.6, "labelOffset": -4, "labelFontSize": 19, "labelBaseline": "top", "labelFlush": false, "labelOverlap": false, "domain": false, "title": "Q (m³/s)", "titleFontSize": 19, "titleFontWeight": "bold", "titlePadding": 9}},
            "y": {"field": "dQdt", "type": "quantitative", "scale": {"type": "log", "domain": [0.001, 10], "nice": false},
              "axis": {"orient": "left", "zindex": 1, "offset": -5.5, "values": [0.001,0.002,0.003,0.004,0.005,0.006,0.007,0.008,0.009,0.01,0.02,0.03,0.04,0.05,0.06,0.07,0.08,0.09,0.1,0.2,0.3,0.4,0.5,0.6,0.7,0.8,0.9,1,2,3,4,5,6,7,8,9,10], "labelExpr": "abs(log(datum.value)/LN10 - round(log(datum.value)/LN10)) < 0.01 ? '10' : ''", "ticks": true, "tickSize": 5.5, "tickColor": "black", "tickWidth": 1.5, "labelPadding": 19, "labelFontSize": 19, "labelFlush": false, "labelOverlap": false, "domain": false, "title": "- dQ/dt (m³/s.d)", "titleFontSize": 19, "titleFontWeight": "normal", "titlePadding": 5}},
            "shape": {"datum": "observed discharges", "type": "nominal",
              "scale": {"domain": ["observed discharges", "simulated discharges"], "range": ["M-0.13,0H0.13M0,-0.13V0.13", "M-1,-0.06H1V0.06H-1Z"]},
              "legend": {"orient": "none", "legendX": 52.5, "legendY": 22.7, "title": null, "padding": 0, "rowPadding": 0, "clipHeight": 28, "symbolOffset": 0, "symbolSize": 1681, "labelOffset": 5, "labelFontSize": 20, "labelFont": "Liberation Sans", "labelColor": "black", "labelLimit": 0,
                "encode": {"symbols": {"update": {"fill": {"value": "black"}, "stroke": {"value": "black"}, "strokeWidth": {"value": 1.3}, "opacity": {"value": 1}}}}}}
          }
        },
        {
          "data": {"name": "simB"},
          "mark": {"type": "line", "color": "black", "strokeWidth": 2.6, "clip": true},
          "encoding": {
            "x": {"field": "Q", "type": "quantitative", "scale": {"type": "log", "domain": [0.0001, 100], "nice": false},
              "axis": {"orient": "top", "zindex": 1, "offset": -5.5, "values": [0.0001, 0.01, 1, 100], "labels": false, "ticks": true, "tickSize": 5.5, "tickColor": "black", "tickWidth": 1.5, "title": null, "domain": false}},
            "y": {"field": "dQdt", "type": "quantitative", "scale": {"type": "log", "domain": [0.001, 10], "nice": false},
              "axis": {"orient": "right", "zindex": 1, "offset": -5.5, "values": [0.001,0.002,0.003,0.004,0.005,0.006,0.007,0.008,0.009,0.01,0.02,0.03,0.04,0.05,0.06,0.07,0.08,0.09,0.1,0.2,0.3,0.4,0.5,0.6,0.7,0.8,0.9,1,2,3,4,5,6,7,8,9,10], "labels": false, "ticks": true, "tickSize": 5.5, "tickColor": "black", "tickWidth": 1.5, "title": null, "domain": false}}
          }
        },
        {
          "data": {"name": "labB"},
          "mark": {"type": "text", "fontSize": 16, "font": "Liberation Sans", "color": "black", "align": "center", "baseline": "middle"},
          "encoding": {
            "x": {"field": "Q", "type": "quantitative", "scale": {"type": "log", "domain": [0.0001, 100], "nice": false},
              "axis": {"orient": "bottom", "values": [0.0001, 0.01, 1, 100], "labelExpr": "'' + round(log(datum.value)/LN10)", "ticks": false, "domain": false, "grid": true, "gridColor": "black", "gridOpacity": 1, "gridWidth": 1.4, "gridDash": [5.5, 577, 5.5, 3000], "labelFontSize": 12, "labelAlign": "left", "labelOffset": 6, "labelBaseline": "top", "labelPadding": 4.1, "labelFlush": false, "labelOverlap": false, "title": null}},
            "y": {"field": "dQdt", "type": "quantitative", "scale": {"type": "log", "domain": [0.001, 10], "nice": false},
              "axis": {"orient": "left", "values": [0.001,0.002,0.003,0.004,0.005,0.006,0.007,0.008,0.009,0.01,0.02,0.03,0.04,0.05,0.06,0.07,0.08,0.09,0.1,0.2,0.3,0.4,0.5,0.6,0.7,0.8,0.9,1,2,3,4,5,6,7,8,9,10], "labelExpr": "abs(log(datum.value)/LN10 - round(log(datum.value)/LN10)) < 0.01 ? '' + round(log(datum.value)/LN10) : ''", "ticks": false, "domain": false, "grid": true, "gridColor": "black", "gridOpacity": 1, "gridWidth": 1.4, "gridDash": [5.5, 484, 5.5, 3000], "labelFontSize": 12, "labelAlign": "left", "labelBaseline": "middle", "labelPadding": 17, "labelOffset": -13, "labelFlush": false, "labelOverlap": false, "title": null}},
            "text": {"field": "label"}
          }
        }
      ]
    }
  ]
}
]
}
